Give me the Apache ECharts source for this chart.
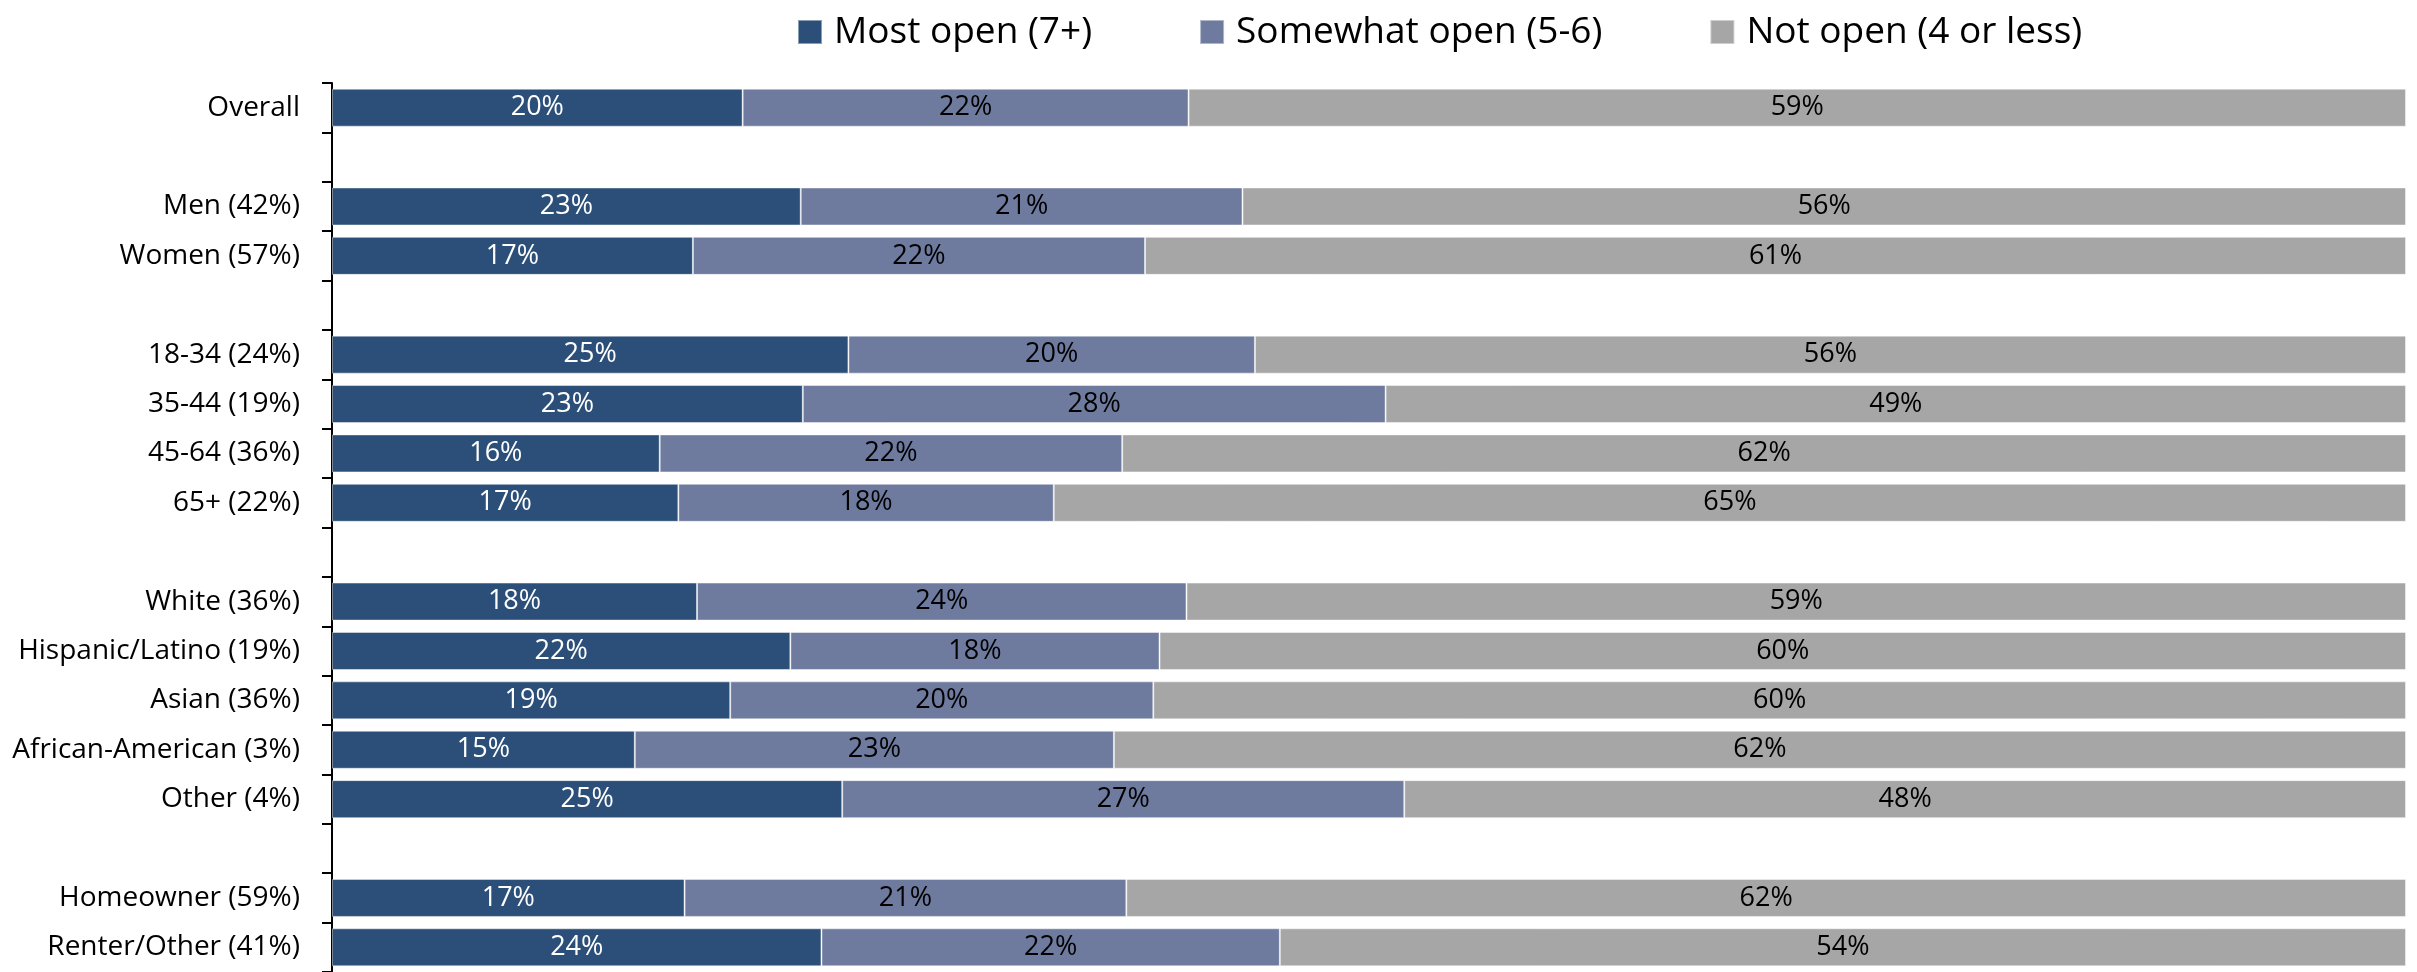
<!DOCTYPE html>
<html>
<head>
<meta charset="utf-8">
<script src="https://cdn.jsdelivr.net/npm/echarts@6/dist/echarts.min.js"></script>
<style>
html,body{margin:0;padding:0;background:#fff;}
#chart{width:2417px;height:972px;}
</style>
</head>
<body>
<div id="chart"></div>
<script>
// Categories (blank entries are spacer rows between groups)
const categories = [
  'Overall', ' ',
  'Men (42%)', 'Women (57%)', '  ',
  '18-34 (24%)', '35-44 (19%)', '45-64 (36%)', '65+ (22%)', '   ',
  'White (36%)', 'Hispanic/Latino (19%)', 'Asian (36%)', 'African-American (3%)', 'Other (4%)', '    ',
  'Homeowner (59%)', 'Renter/Other (41%)'
];
const seriesNames = ['Most open (7+)', 'Somewhat open (5-6)', 'Not open (4 or less)'];
const mostOpen     = [19.8, null, 22.6, 17.4, null, 24.9, 22.7, 15.8, 16.7, null, 17.6, 22.1, 19.2, 14.6, 24.6, null, 17.0, 23.6];
const somewhatOpen = [21.5, null, 21.3, 21.8, null, 19.6, 28.1, 22.3, 18.1, null, 23.6, 17.8, 20.4, 23.1, 27.1, null, 21.3, 22.1];
const notOpen      = [58.7, null, 56.1, 60.8, null, 55.5, 49.2, 61.9, 65.2, null, 58.8, 60.1, 60.4, 62.3, 48.3, null, 61.7, 54.3];
const colors = ['#2B4F78', '#6E7B9F', '#A6A6A6'];
const labelColors = ['#ffffff', '#000000', '#000000'];

const FONT = 'Open Sans';
const chart = echarts.init(document.getElementById('chart'), null, {renderer: 'canvas'});
const values = [mostOpen, somewhatOpen, notOpen];

chart.setOption({
  animation: false,
  backgroundColor: '#ffffff',
  legend: {
    left: 792,
    top: 7,
    padding: 5,
    itemWidth: 24,
    itemHeight: 24,
    itemGap: 107,
    icon: 'rect',
    textStyle: {fontFamily: FONT, fontSize: 37, lineHeight: 40, color: '#000', padding: [0, 0, 0, 7]},
    data: seriesNames
  },
  grid: {left: 332, right: 11, top: 83, height: 894, containLabel: false},
  xAxis: {
    type: 'value', min: 0, max: 100,
    show: false
  },
  yAxis: {
    type: 'category',
    inverse: true,
    data: categories,
    axisLine: {show: true, lineStyle: {color: '#000', width: 2}},
    axisTick: {show: true, length: 10, lineStyle: {color: '#000', width: 2}},
    axisLabel: {fontFamily: FONT, fontSize: 28, color: '#000', margin: 32}
  },
  series: seriesNames.map((name, i) => ({
    name: name,
    type: 'bar',
    stack: 'total',
    barWidth: 38,
    data: values[i],
    itemStyle: {color: colors[i], borderColor: 'rgba(255,255,255,0.45)', borderWidth: 1},
    label: {
      show: true,
      position: 'inside',
      fontFamily: FONT,
      fontSize: 27,
      color: labelColors[i],
      formatter: p => (p.value == null ? '' : Math.round(p.value) + '%')
    }
  }))
});
</script>
</body>
</html>
